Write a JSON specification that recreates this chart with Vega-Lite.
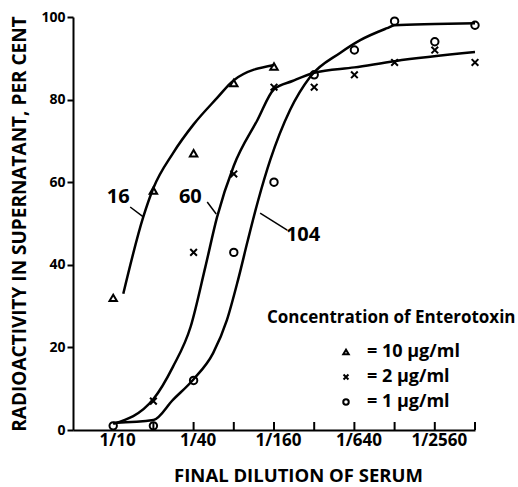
{
  "$schema": "https://vega.github.io/schema/vega-lite/v6.json",
  "width": 402,
  "height": 413,
  "autosize": "none",
  "padding": {"left": 73, "top": 17, "right": 43, "bottom": 57},
  "background": "white",
  "config": {
    "font": "Open Sans",
    "view": {"stroke": null},
    "axis": {
      "grid": false,
      "domainColor": "black",
      "domainWidth": 2,
      "tickColor": "black",
      "tickWidth": 2,
      "labelColor": "black",
      "labelFont": "Open Sans",
      "labelFontWeight": "bold",
      "labelFontSize": 14,
      "titleColor": "black",
      "titleFont": "Open Sans",
      "titleFontWeight": "bold",
      "titleFontSize": 18.5
    }
  },
  "datasets": {
    "points": [
      {"dil": 10, "pct": 32, "conc": "10 µg/ml"},
      {"dil": 20, "pct": 58, "conc": "10 µg/ml"},
      {"dil": 40, "pct": 67, "conc": "10 µg/ml"},
      {"dil": 80, "pct": 84, "conc": "10 µg/ml"},
      {"dil": 160, "pct": 88, "conc": "10 µg/ml"},
      {"dil": 20, "pct": 7, "conc": "2 µg/ml"},
      {"dil": 40, "pct": 43, "conc": "2 µg/ml"},
      {"dil": 80, "pct": 62, "conc": "2 µg/ml"},
      {"dil": 160, "pct": 83, "conc": "2 µg/ml"},
      {"dil": 320, "pct": 83, "conc": "2 µg/ml"},
      {"dil": 640, "pct": 86, "conc": "2 µg/ml"},
      {"dil": 1280, "pct": 89, "conc": "2 µg/ml"},
      {"dil": 2560, "pct": 92, "conc": "2 µg/ml"},
      {"dil": 5120, "pct": 89, "conc": "2 µg/ml"},
      {"dil": 10, "pct": 1, "conc": "1 µg/ml"},
      {"dil": 20, "pct": 1, "conc": "1 µg/ml"},
      {"dil": 40, "pct": 12, "conc": "1 µg/ml"},
      {"dil": 80, "pct": 43, "conc": "1 µg/ml"},
      {"dil": 160, "pct": 60, "conc": "1 µg/ml"},
      {"dil": 320, "pct": 86, "conc": "1 µg/ml"},
      {"dil": 640, "pct": 92, "conc": "1 µg/ml"},
      {"dil": 1280, "pct": 99, "conc": "1 µg/ml"},
      {"dil": 2560, "pct": 94, "conc": "1 µg/ml"},
      {"dil": 5120, "pct": 98, "conc": "1 µg/ml"}
    ],
    "curves": [
      {"curve": "16", "dil": 11.9, "pct": 33},
      {"curve": "16", "dil": 16.8, "pct": 51.6},
      {"curve": "16", "dil": 20, "pct": 58.6},
      {"curve": "16", "dil": 28, "pct": 67},
      {"curve": "16", "dil": 40, "pct": 74},
      {"curve": "16", "dil": 60, "pct": 80.4},
      {"curve": "16", "dil": 80, "pct": 84.7},
      {"curve": "16", "dil": 160, "pct": 88.4},
      {"curve": "60", "dil": 10, "pct": 1.5},
      {"curve": "60", "dil": 20, "pct": 7.5},
      {"curve": "60", "dil": 28, "pct": 15.3},
      {"curve": "60", "dil": 38, "pct": 25},
      {"curve": "60", "dil": 49, "pct": 39.5},
      {"curve": "60", "dil": 60, "pct": 51.6},
      {"curve": "60", "dil": 80, "pct": 64},
      {"curve": "60", "dil": 120, "pct": 75},
      {"curve": "60", "dil": 160, "pct": 82.5},
      {"curve": "60", "dil": 220, "pct": 84.5},
      {"curve": "60", "dil": 320, "pct": 86.5},
      {"curve": "60", "dil": 640, "pct": 87.8},
      {"curve": "60", "dil": 1280, "pct": 89.3},
      {"curve": "60", "dil": 5120, "pct": 91.5},
      {"curve": "104", "dil": 10, "pct": 1.7},
      {"curve": "104", "dil": 20, "pct": 2.4},
      {"curve": "104", "dil": 28, "pct": 7.3},
      {"curve": "104", "dil": 40, "pct": 12.3},
      {"curve": "104", "dil": 56, "pct": 18.6},
      {"curve": "104", "dil": 71, "pct": 26.6},
      {"curve": "104", "dil": 86, "pct": 36.3},
      {"curve": "104", "dil": 102, "pct": 46},
      {"curve": "104", "dil": 122, "pct": 55.7},
      {"curve": "104", "dil": 150, "pct": 65.4},
      {"curve": "104", "dil": 211, "pct": 77.5},
      {"curve": "104", "dil": 298, "pct": 85.5},
      {"curve": "104", "dil": 500, "pct": 91.3},
      {"curve": "104", "dil": 708, "pct": 94.4},
      {"curve": "104", "dil": 1125, "pct": 97.3},
      {"curve": "104", "dil": 1280, "pct": 98},
      {"curve": "104", "dil": 2560, "pct": 98.3},
      {"curve": "104", "dil": 5120, "pct": 98.5}
    ],
    "labels": [
      {"label": "16", "dil": 10.9, "pct": 56.4, "dil2": 13.4, "pct_a": 54, "dil_b": 16.8, "pct_b": 51.6},
      {"label": "60", "dil": 37.8, "pct": 56.4, "dil2": 50.6, "pct_a": 55.2, "dil_b": 59.1, "pct_b": 52.3},
      {"label": "104", "dil": 264, "pct": 47.2, "dil2": 201, "pct_a": 48.4, "dil_b": 126, "pct_b": 52.5}
    ],
    "xticks": [
      {"dil": 20, "pct": 0}, {"dil": 40, "pct": 0}, {"dil": 80, "pct": 0}, {"dil": 160, "pct": 0}, {"dil": 320, "pct": 0},
      {"dil": 640, "pct": 0}, {"dil": 1280, "pct": 0}, {"dil": 2560, "pct": 0}, {"dil": 5120, "pct": 0}
    ]
  },
  "encoding": {
    "x": {
      "field": "dil",
      "type": "quantitative",
      "scale": {"type": "log", "base": 2, "domain": [5, 5120], "nice": false},
      "axis": {
        "title": "FINAL DILUTION OF SERUM",
        "titleX": 225,
        "values": [10, 40, 160, 640, 2560],
        "labelExpr": "'1/' + datum.value",
        "labelFontSize": 17,
        "labelOffset": 4,
        "ticks": false,
        "labelPadding": 2,
        "titlePadding": 18,
        "labelFlush": false,
        "labelOverlap": false
      }
    },
    "y": {
      "field": "pct",
      "type": "quantitative",
      "scale": {"domain": [0, 100], "nice": false},
      "axis": {
        "title": "RADIOACTIVITY IN SUPERNATANT, PER CENT",
        "titleFontSize": 19,
        "values": [0, 20, 40, 60, 80, 100],
        "tickSize": 6,
        "labelPadding": 2,
        "titlePadding": 11
      }
    }
  },
  "layer": [
    {
      "data": {"name": "xticks"},
      "mark": {"type": "tick", "orient": "vertical", "size": 8, "thickness": 2, "yOffset": -4, "color": "black", "opacity": 1}
    },
    {
      "data": {"name": "curves"},
      "mark": {"type": "line", "interpolate": "monotone", "color": "black", "strokeWidth": 2.5},
      "encoding": {"detail": {"field": "curve"}}
    },
    {
      "data": {"name": "points"},
      "mark": {"type": "point", "filled": false, "color": "black", "strokeWidth": 2, "size": 55, "opacity": 1},
      "encoding": {
        "shape": {
          "field": "conc",
          "type": "nominal",
          "scale": {
            "domain": ["10 µg/ml", "2 µg/ml", "1 µg/ml"],
            "range": ["triangle-up", "M-0.9,-0.9L0.9,0.9M-0.9,0.9L0.9,-0.9", "circle"]
          },
          "legend": {
            "title": "Concentration of Enterotoxin",
            "orient": "none",
            "legendX": 194,
            "legendY": 293,
            "titleFontSize": 17,
            "titleFontWeight": "bold",
            "titleColor": "black",
            "titleLimit": 400,
            "titlePadding": 16,
            "labelFontSize": 18,
            "labelFontWeight": "bold",
            "labelColor": "black",
            "labelExpr": "'= ' + datum.label",
            "labelOffset": 12,
            "symbolSize": 30,
            "symbolStrokeWidth": 2,
            "symbolStrokeColor": "black",
            "symbolFillColor": "white",
            "symbolOffset": 70,
            "rowPadding": 7
          }
        }
      }
    },
    {
      "data": {"name": "labels"},
      "mark": {"type": "rule", "color": "black", "strokeWidth": 1.5},
      "encoding": {
        "x": {"field": "dil2", "type": "quantitative"},
        "y": {"field": "pct_a", "type": "quantitative"},
        "x2": {"field": "dil_b"},
        "y2": {"field": "pct_b"}
      }
    },
    {
      "data": {"name": "labels"},
      "mark": {"type": "text", "fontSize": 20, "fontWeight": "bold", "color": "black", "font": "Open Sans"},
      "encoding": {"text": {"field": "label"}}
    }
  ]
}
